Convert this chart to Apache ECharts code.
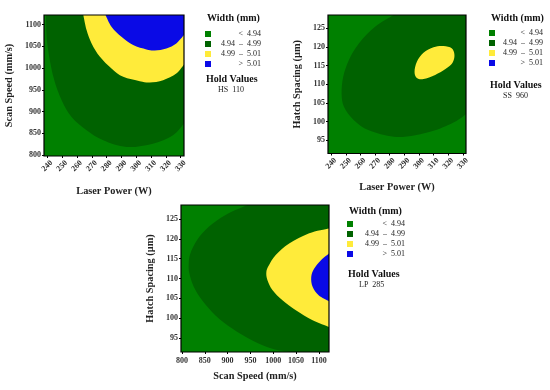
<!DOCTYPE html>
<html><head><meta charset="utf-8">
<script src="https://cdn.jsdelivr.net/npm/echarts@6/dist/echarts.min.js"></script>
<style>html,body{margin:0;padding:0;background:#fff}#c{width:550px;height:390px}</style>
</head><body><div id="c"></div>
<script>
// ---- axis ranges & ticks ----
const lpRange = [237.8, 332.2];
const ssRange = [798, 1122];
const hsRange = [91.5, 128.5];
const lpTicks = [240, 250, 260, 270, 280, 290, 300, 310, 320, 330];
const ssTicks = [800, 850, 900, 950, 1000, 1050, 1100];
const hsTicks = [95, 100, 105, 110, 115, 120, 125];

// ---- legend ----
const legendTitle = 'Width (mm)';
const levelLabels = ['<  4.94', '4.94  \u2013  4.99', '4.99  \u2013  5.01', '>  5.01'];
const holdTitle = 'Hold Values';
const holdValues = ['HS  110', 'SS  960', 'LP  285'];

// ---- contour boundaries ([x, y] data values) ----
// Panel 1: Laser Power (x) vs Scan Speed (y)
const p1_c494 = [[239.1,1122],[240.0,1056.7],[244.1,980],[249.7,926.2],[256.4,887.8],[266.5,857.1],[277.7,834.1],[293.4,818.7],[311.3,826.4],[324.8,845.6],[332.2,872.5]];
const p1_c499 = [[264.3,1122],[266.5,1087.4],[269.9,1056.7],[275.5,1026.0],[283.3,999.2],[291.2,980.0],[302.4,970.0],[309.1,966.9],[318.1,972.3],[327.0,987.6],[332.2,1008.4]];
const p1_c501 = [[279.3,1122],[283.3,1095.1],[290.0,1072.1],[297.9,1052.9],[306.9,1042.9],[312.5,1040.6],[320.3,1045.2],[327.0,1056.7],[332.2,1075.9]];
// Panel 2: Laser Power (x) vs Hatch Spacing (y)
const p2_c494 = [[282.7,128.5],[270.2,125.4],[258.9,120.9],[252.1,116.5],[248.2,112.0],[247.1,107.5],[248.7,104.0],[255.5,100.4],[265.7,97.7],[282.7,95.96],[297.5,96.4],[311.1,97.7],[324.7,100.0],[332.2,102.0]];
const p2_c499 = [[297.0,113.3],[298.6,116.0],[303.1,118.4],[310.0,119.9],[316.8,120.2],[322.4,119.6],[324.3,117.8],[322.9,115.7],[317.9,114.0],[311.1,112.5],[303.1,111.4],[298.6,111.7]];
// Panel 3: Scan Speed (x) vs Hatch Spacing (y)
const p3_c494 = [[943.1,128.5],[895.5,126.0],[858.8,123.0],[833.2,119.7],[818.5,116.3],[814.9,113.8],[816.3,111.3],[825.9,107.9],[844.2,104.5],[873.5,100.7],[910.1,97.4],[954.1,94.4],[998.1,92.3],[1034.8,91.5]];
const p3_c499 = [[1122,122.6],[1078.7,121.4],[1034.8,118.8],[1005.4,115.9],[990.8,113.4],[984.9,111.7],[987.1,109.6],[998.1,107.1],[1020.1,104.5],[1049.4,102.0],[1086.1,99.5],[1122,97.8]];
const p3_c501 = [[1122,116.3],[1104.4,114.6],[1089.7,112.5],[1083.1,110.4],[1086.1,107.9],[1099.3,105.8],[1122,104.3]];

// ---- styles ----
const FONT = '"Liberation Serif","Times New Roman",serif';
const COLORS = ['#008000', '#006200', '#FFEB3A', '#0A0AE6'];
const TXT = '#222';

function smoothPath(pts, closed) {
  const n = pts.length;
  const get = i => closed ? pts[(i + n) % n] : pts[Math.max(0, Math.min(n - 1, i))];
  let d = 'M' + pts[0][0] + ',' + pts[0][1];
  const segs = closed ? n : n - 1;
  for (let i = 0; i < segs; i++) {
    const p0 = get(i - 1), p1 = get(i), p2 = get(i + 1), p3 = get(i + 2);
    const c1 = [p1[0] + (p2[0] - p0[0]) / 6, p1[1] + (p2[1] - p0[1]) / 6];
    const c2 = [p2[0] - (p3[0] - p1[0]) / 6, p2[1] - (p3[1] - p1[1]) / 6];
    d += ' C' + c1[0] + ',' + c1[1] + ' ' + c2[0] + ',' + c2[1] + ' ' + p2[0] + ',' + p2[1];
  }
  return d;
}

function regionSeries(gi, curve, corners, color, closed) {
  return {
    type: 'custom', xAxisIndex: gi, yAxisIndex: gi, clip: true, silent: true,
    data: [[curve[0][0], curve[0][1]]],
    renderItem: function (params, api) {
      const pts = curve.map(p => api.coord(p));
      let d = smoothPath(pts, !!closed);
      (corners || []).forEach(c => { const q = api.coord(c); d += ' L' + q[0] + ',' + q[1]; });
      d += ' Z';
      return { type: 'path', shape: { pathData: d }, style: { fill: color, stroke: null } };
    }
  };
}

function bgSeries(gi, color) {
  return {
    type: 'custom', xAxisIndex: gi, yAxisIndex: gi, silent: true, z: 1,
    data: [[0, 0]],
    renderItem: function (params) {
      const cs = params.coordSys;
      return { type: 'rect', shape: { x: cs.x, y: cs.y, width: cs.width, height: cs.height }, style: { fill: color } };
    }
  };
}
function frameSeries(gi) {
  return {
    type: 'custom', xAxisIndex: gi, yAxisIndex: gi, silent: true, z: 10,
    data: [[0, 0]],
    renderItem: function (params) {
      const cs = params.coordSys;
      return { type: 'rect', shape: { x: cs.x, y: cs.y, width: cs.width, height: cs.height }, style: { fill: null, stroke: '#000', lineWidth: 1.2 } };
    }
  };
}

function axis(gi, range, ticks, name, gap, rotate, isX) {
  const label = { customValues: ticks, formatter: v => String(v), fontFamily: FONT, fontWeight: 'bold', fontSize: 8, color: '#333', rotate: rotate || 0, margin: isX ? 5 : 3 };
  if (rotate) { label.align = 'center'; label.verticalAlign = 'middle'; label.margin = 10; }
  return {
    type: 'value', gridIndex: gi, min: range[0], max: range[1],
    name: name, nameLocation: 'middle', nameGap: gap,
    nameTextStyle: { fontFamily: FONT, fontWeight: 'bold', fontSize: 10.3, color: TXT },
    axisLine: { show: false },
    axisTick: { show: true, length: 2, customValues: ticks, lineStyle: { color: '#000' } },
    axisLabel: label,
    splitLine: { show: false }
  };
}

const legendDefs = [
  { sx: 205, ty: 19, row0: 34, right: 261, holdY: 80, holdX: 218, hold: holdValues[0] },
  { sx: 489, ty: 19, row0: 33, right: 543, holdY: 86, holdX: 503, hold: holdValues[1] },
  { sx: 347, ty: 212, row0: 224, right: 405, holdY: 275, holdX: 359, hold: holdValues[2] }
];
const graphics = [];
legendDefs.forEach(L => {
  graphics.push({ type: 'text', left: L.sx + 2, top: L.ty - 6, style: { text: legendTitle, font: 'bold 10px ' + FONT, fill: '#111' } });
  levelLabels.forEach((lab, i) => {
    const cy = L.row0 + i * 10;
    graphics.push({ type: 'rect', shape: { x: L.sx, y: cy - 3, width: 6, height: 6 }, style: { fill: COLORS[i] } });
    graphics.push({ type: 'text', x: L.right, y: cy, style: { text: lab, font: '8px ' + FONT, fill: TXT, align: 'right', verticalAlign: 'middle' } });
  });
  graphics.push({ type: 'text', left: L.sx + 1, top: L.holdY - 6, style: { text: holdTitle, font: 'bold 10px ' + FONT, fill: '#111' } });
  graphics.push({ type: 'text', x: L.holdX, y: L.holdY + 10, style: { text: L.hold, font: '8px ' + FONT, fill: TXT, verticalAlign: 'middle' } });
});

const option = {
  animation: false,
  backgroundColor: '#fff',
  grid: [
    { left: 44, top: 15, width: 140, height: 141 },
    { left: 328, top: 15, width: 138, height: 138.5 },
    { left: 181, top: 205, width: 148, height: 147 }
  ],
  xAxis: [
    axis(0, lpRange, lpTicks, 'Laser Power (W)', 30, 45, true),
    axis(1, lpRange, lpTicks, 'Laser Power (W)', 29, 45, true),
    axis(2, ssRange, ssTicks, 'Scan Speed (mm/s)', 19, 0, true)
  ],
  yAxis: [
    axis(0, ssRange, ssTicks, 'Scan Speed (mm/s)', 30, 0, false),
    axis(1, hsRange, hsTicks, 'Hatch Spacing (\u00b5m)', 26, 0, false),
    axis(2, hsRange, hsTicks, 'Hatch Spacing (\u00b5m)', 26, 0, false)
  ],
  series: [
    bgSeries(0, COLORS[0]), bgSeries(1, COLORS[0]), bgSeries(2, COLORS[0]),
    regionSeries(0, p1_c494, [[lpRange[1], ssRange[1]]], COLORS[1]),
    regionSeries(0, p1_c499, [[lpRange[1], ssRange[1]]], COLORS[2]),
    regionSeries(0, p1_c501, [[lpRange[1], ssRange[1]]], COLORS[3]),
    regionSeries(1, p2_c494, [[lpRange[1], hsRange[1]]], COLORS[1]),
    regionSeries(1, p2_c499, [], COLORS[2], true),
    regionSeries(2, p3_c494, [[ssRange[1], hsRange[0]], [ssRange[1], hsRange[1]]], COLORS[1]),
    regionSeries(2, p3_c499, [], COLORS[2]),
    regionSeries(2, p3_c501, [], COLORS[3]),
    frameSeries(0), frameSeries(1), frameSeries(2)
  ],
  graphic: graphics
};
const chart = echarts.init(document.getElementById('c'), null, { renderer: 'canvas' });
chart.setOption(option);
</script></body></html>
